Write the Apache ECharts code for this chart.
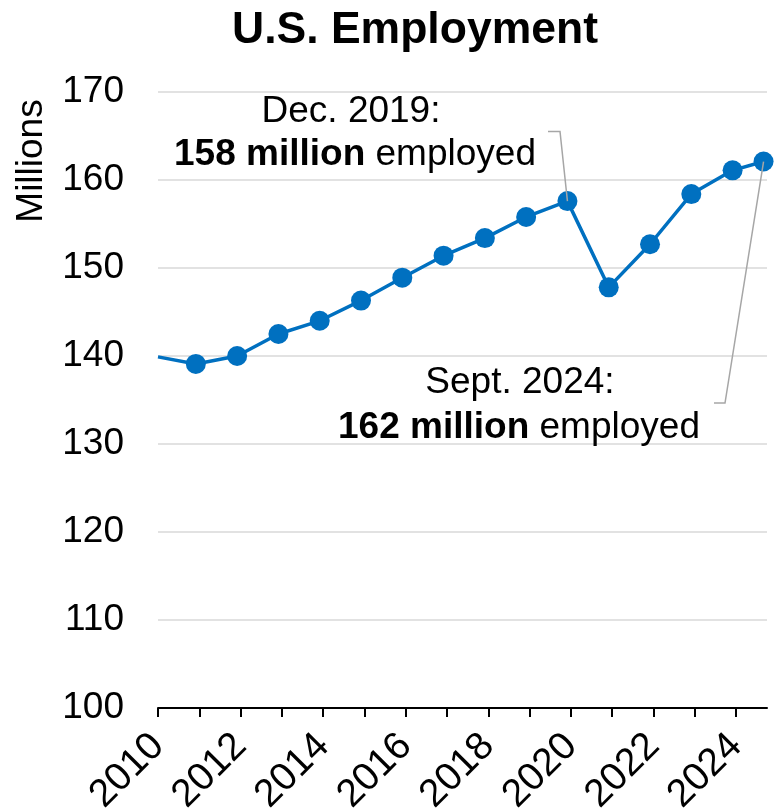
<!DOCTYPE html>
<html>
<head>
<meta charset="utf-8">
<script src="https://cdn.jsdelivr.net/npm/echarts@6/dist/echarts.min.js"></script>
<style>
  html, body { margin: 0; padding: 0; background: #fff; }
  #main { width: 781px; height: 812px; }
</style>
</head>
<body>
<div id="main"></div>
<script>
// monthly readings, millions employed
var months = ['2010-01', '2010-12', '2011-12', '2012-12', '2013-12', '2014-12', '2015-12', '2016-12',
    '2017-12', '2018-12', '2019-12', '2020-12', '2021-12', '2022-12', '2023-12', '2024-09'];
var employed = [139.9, 139.1, 140.0, 142.5, 144.0, 146.3, 148.9, 151.4,
    153.4, 155.8, 157.6, 147.8, 152.7, 158.4, 161.1, 162.1];
var tickYears = [2010, 2011, 2012, 2013, 2014, 2015, 2016, 2017, 2018, 2019, 2020, 2021, 2022, 2023, 2024];
var labelYears = [2010, 2012, 2014, 2016, 2018, 2020, 2022, 2024];
var yTicks = [100, 110, 120, 130, 140, 150, 160, 170];

var font = '"Liberation Sans", Arial, sans-serif';

function toYear(m) {
    var p = m.split('-');
    return +p[0] + (+p[1] - 1) / 12;
}

var seriesData = months.map(function (m, i) {
    var d = { value: [toYear(m), employed[i]] };
    if (i === 0) d.symbol = 'none';
    return d;
});

var myChart = echarts.init(document.getElementById('main'));

var option = {
    backgroundColor: '#fff',
    animation: false,
    title: {
        text: 'U.S. Employment',
        left: 227,
        top: 3,
        textStyle: { fontFamily: font, fontSize: 44.5, fontWeight: 'bold', color: '#000' }
    },
    grid: { left: 158, right: 14, top: 92, bottom: 104, containLabel: false, outerBoundsMode: 'none' },
    xAxis: {
        type: 'value',
        min: 2010,
        max: 2024.75,
        interval: 1,
        splitLine: { show: false },
        axisLine: { lineStyle: { color: '#000', width: 2 } },
        axisTick: { customValues: tickYears, length: 9, lineStyle: { color: '#000', width: 2 } },
        axisLabel: {
            customValues: labelYears,
            rotate: 45,
            margin: 32,
            fontFamily: font,
            fontSize: 39,
            color: '#000',
            formatter: function (v) { return String(v); }
        }
    },
    yAxis: {
        type: 'value',
        min: yTicks[0],
        max: yTicks[yTicks.length - 1],
        interval: 10,
        axisLine: { show: false },
        axisTick: { show: false },
        splitLine: { lineStyle: { color: '#d9d9d9', width: 1.5 } },
        axisLabel: { margin: 34, fontFamily: font, fontSize: 37, color: '#000' }
    },
    series: [{
        type: 'line',
        data: seriesData,
        symbol: 'circle',
        symbolSize: 20,
        lineStyle: { color: '#0070c0', width: 3.5 },
        itemStyle: { color: '#0070c0' },
        z: 3
    }]
};
myChart.setOption(option);

var p2019 = myChart.convertToPixel({ gridIndex: 0 }, [toYear('2019-12'), employed[10]]);
var p2024 = myChart.convertToPixel({ gridIndex: 0 }, [toYear('2024-09'), employed[15]]);

var txt = { fontFamily: font, fontSize: 37, fill: '#000', align: 'center', verticalAlign: 'middle' };

function textEl(x, y, str, rich) {
    var style = Object.assign({}, txt, { x: x, y: y, text: str });
    if (rich) style.rich = rich;
    return { type: 'text', z: 10, style: style };
}

var boldRich = { b: { fontFamily: font, fontSize: 37, fontWeight: 'bold', fill: '#000' } };

myChart.setOption({
    graphic: [
        {
            type: 'text', z: 10, x: 32, y: 161, rotation: Math.PI / 2,
            style: { text: 'Millions', fontFamily: font, fontSize: 37, fill: '#000', align: 'center', verticalAlign: 'middle' }
        },
        textEl(351, 112, 'Dec. 2019:'),
        textEl(355, 155, '{b|158 million} employed', boldRich),
        textEl(520, 383, 'Sept. 2024:'),
        textEl(519, 428, '{b|162 million} employed', boldRich),
        {
            type: 'polyline', z: 20,
            shape: { points: [[548, 131.5], [560, 131.5], p2019] },
            style: { stroke: '#a6a6a6', lineWidth: 1.5, fill: null }
        },
        {
            type: 'polyline', z: 20,
            shape: { points: [[714, 403], [725, 403], p2024] },
            style: { stroke: '#a6a6a6', lineWidth: 1.5, fill: null }
        }
    ]
});
</script>
</body>
</html>
